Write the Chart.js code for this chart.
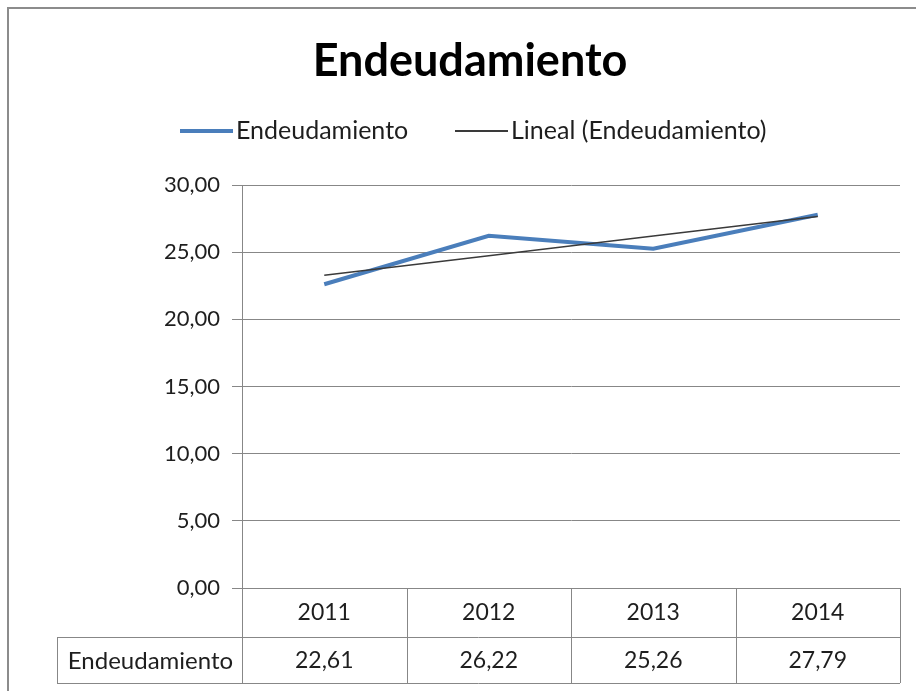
<!DOCTYPE html>
<html>
<head>
<meta charset="utf-8">
<style>
html,body{margin:0;padding:0;background:#fff;}
#wrap{position:relative;width:916px;height:691px;}
canvas{display:block;}
</style>
<script src="https://cdn.jsdelivr.net/npm/chart.js@4/dist/chart.umd.min.js"></script>
</head>
<body>
<div id="wrap"><canvas id="c" width="916" height="691"></canvas></div>
<script>
// ---- data ----
const chartTitle = 'Endeudamiento';
const years = ['2011', '2012', '2013', '2014'];
const endeudamiento = [22.61, 26.22, 25.26, 27.79];
const tableValues = ['22,61', '26,22', '25,26', '27,79'];
const trendValues = [23.28, 24.74, 26.20, 27.66];
const yTickLabels = ['0,00', '5,00', '10,00', '15,00', '20,00', '25,00', '30,00'];
const seriesName = 'Endeudamiento';
const trendName = 'Lineal (Endeudamiento)';

const FONT = 'Lato, "Open Sans", sans-serif';
const TXT = '#1e1e1e';
const GRID = '#878787';

const decor = {
  id: 'decor',
  afterDraw(chart) {
    const ctx = chart.ctx;
    const ca = chart.chartArea;
    const xs = chart.scales.x;
    ctx.save();
    // outer frame
    ctx.strokeStyle = '#8c8c8c';
    ctx.lineWidth = 2;
    ctx.beginPath();
    ctx.moveTo(8, 691); ctx.lineTo(8, 8); ctx.lineTo(916, 8);
    ctx.stroke();

    // title
    ctx.fillStyle = '#000';
    ctx.font = 'bold 45px ' + FONT;
    ctx.textAlign = 'center';
    ctx.textBaseline = 'alphabetic';
    ctx.fillText(chartTitle, 470, 76);

    // legend
    ctx.font = '25px ' + FONT;
    ctx.textAlign = 'left';
    ctx.textBaseline = 'middle';
    const ds = chart.data.datasets;
    const legendItems = [
      {x0: 180, x1: 233, tx: 236, d: ds[0]},
      {x0: 455, x1: 508, tx: 511, d: ds[1]}
    ];
    legendItems.forEach(it => {
      ctx.strokeStyle = it.d.borderColor;
      ctx.lineWidth = it.d === ds[0] ? 4 : 2;
      ctx.lineCap = 'butt';
      ctx.beginPath(); ctx.moveTo(it.x0, 131); ctx.lineTo(it.x1, 131); ctx.stroke();
      ctx.fillStyle = TXT;
      ctx.fillText(it.d.label, it.tx, 131);
    });

    // data table
    const n = years.length;
    const step = (ca.right - ca.left) / n;
    const r1 = ca.bottom, r2 = 637, r3 = 683, labL = 57;
    ctx.strokeStyle = GRID;
    ctx.lineWidth = 1;
    ctx.beginPath();
    ctx.moveTo(labL, r2 + 0.5); ctx.lineTo(ca.right, r2 + 0.5);
    ctx.moveTo(labL, r3 + 0.5); ctx.lineTo(ca.right, r3 + 0.5);
    ctx.moveTo(labL + 0.5, r2); ctx.lineTo(labL + 0.5, r3);
    for (let i = 0; i <= n; i++) {
      const x = Math.round(ca.left + i * step) + 0.5;
      ctx.moveTo(x, r1); ctx.lineTo(x, r3);
    }
    ctx.stroke();
    ctx.fillStyle = TXT;
    ctx.font = '23px ' + FONT;
    ctx.textAlign = 'center';
    ctx.textBaseline = 'middle';
    for (let i = 0; i < n; i++) {
      const cx = xs.getPixelForValue(i);
      ctx.fillText(years[i], cx, 613);
      ctx.fillText(tableValues[i], cx, 661);
    }
    ctx.font = '24px ' + FONT;
    ctx.fillText(seriesName, (labL + ca.left) / 2 + 1, 661);
    ctx.restore();
  }
};

new Chart(document.getElementById('c'), {
  type: 'line',
  data: {
    labels: years,
    datasets: [
      {
        label: seriesName,
        data: endeudamiento,
        borderColor: '#4a7ebb',
        backgroundColor: '#4a7ebb',
        borderWidth: 4,
        pointRadius: 0,
        tension: 0,
        order: 2
      },
      {
        label: trendName,
        data: trendValues,
        borderColor: '#3a3a3a',
        backgroundColor: '#3a3a3a',
        borderWidth: 1.5,
        pointRadius: 0,
        tension: 0,
        order: 1
      }
    ]
  },
  options: {
    responsive: false,
    animation: false,
    devicePixelRatio: 1,
    layout: { padding: { left: 0, right: 16, top: 185, bottom: 103 } },
    plugins: {
      legend: { display: false },
      title: { display: false },
      tooltip: { enabled: false }
    },
    scales: {
      x: {
        type: 'category',
        display: false,
        offset: true
      },
      y: {
        min: 0,
        max: 30,
        afterFit(scale) { scale.width = 242; },
        border: { display: true, color: GRID, width: 1 },
        grid: { color: GRID, lineWidth: 1, tickLength: 10, drawTicks: true },
        ticks: {
          stepSize: 5,
          padding: 12,
          color: TXT,
          font: { family: FONT, size: 22 },
          callback: (v) => yTickLabels[Math.round(v / 5)]
        }
      }
    }
  },
  plugins: [decor]
});
</script>
</body>
</html>
